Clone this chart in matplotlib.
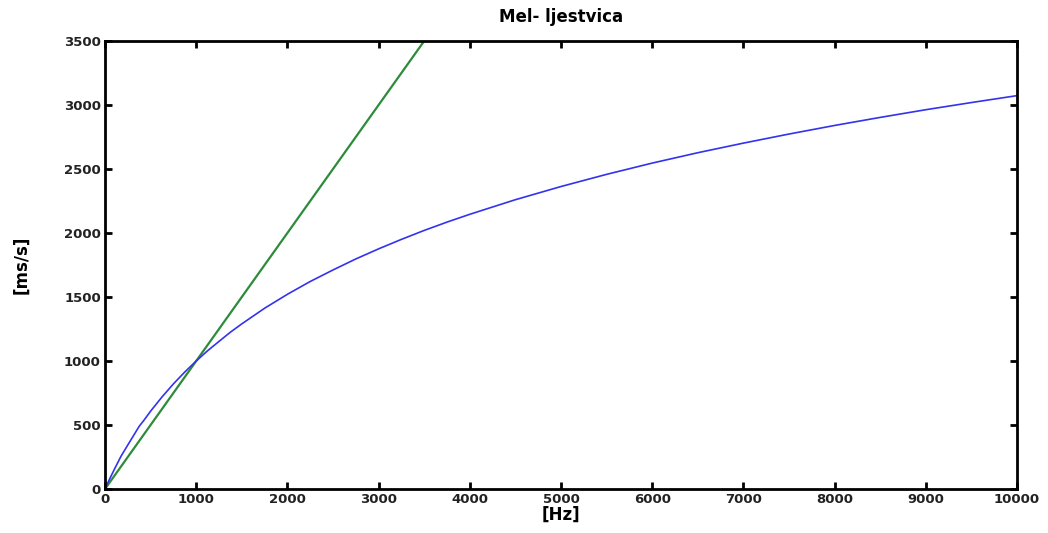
import matplotlib.pyplot as plt

# Curva mel (Hz -> valor)
freq_hz = [0, 25, 50, 100, 175, 250, 300, 375, 425, 500, 625, 750, 875, 1000, 1125,
           1250, 1375, 1500, 1750, 2000, 2250, 2500, 2750, 3000, 3250, 3500, 3750,
           4000, 4500, 5000, 5500, 6000, 6500, 7000, 7500, 8000, 8500, 9000, 9500, 10000]
mel_val = [0, 40, 77, 150, 255, 344, 402, 490, 535, 608, 719, 821, 914, 1000, 1080,
           1153, 1225, 1290, 1412, 1521, 1621, 1711, 1797, 1876, 1950, 2020, 2085,
           2146, 2260, 2363, 2458, 2546, 2627, 2702, 2773, 2840, 2903, 2963, 3019, 3073]

# Recta de referencia (verde)
lin_hz = [0, 3500]
lin_val = [0, 3500]

fig = plt.figure(figsize=(10.48, 5.33), dpi=100)
ax = fig.add_axes([0.1002, 0.0826, 0.8702, 0.8405])

ax.plot(lin_hz, lin_val, color='#2e8b3a', linewidth=1.6)
ax.plot(freq_hz, mel_val, color='#3333ee', linewidth=1.2)

ax.set_xlim(0, 10000)
ax.set_ylim(0, 3500)
ax.set_xticks(range(0, 10001, 1000))
ax.set_yticks(range(0, 3501, 500))

ax.tick_params(direction='in', top=True, right=True, length=5, width=2,
               labelsize=9.5, colors='black', labelcolor='#222222', pad=3)
for lab in ax.get_xticklabels() + ax.get_yticklabels():
    lab.set_fontweight('bold')
for sp in ax.spines.values():
    sp.set_linewidth(2)

ax.set_title('Mel- ljestvica', fontsize=12, fontweight='bold', pad=14)
ax.set_xlabel('[Hz]', fontsize=12, fontweight='bold', labelpad=0)
ax.set_ylabel('[ms/s]', fontsize=12, fontweight='bold', labelpad=24)

fig.savefig('out.png', dpi=100)
